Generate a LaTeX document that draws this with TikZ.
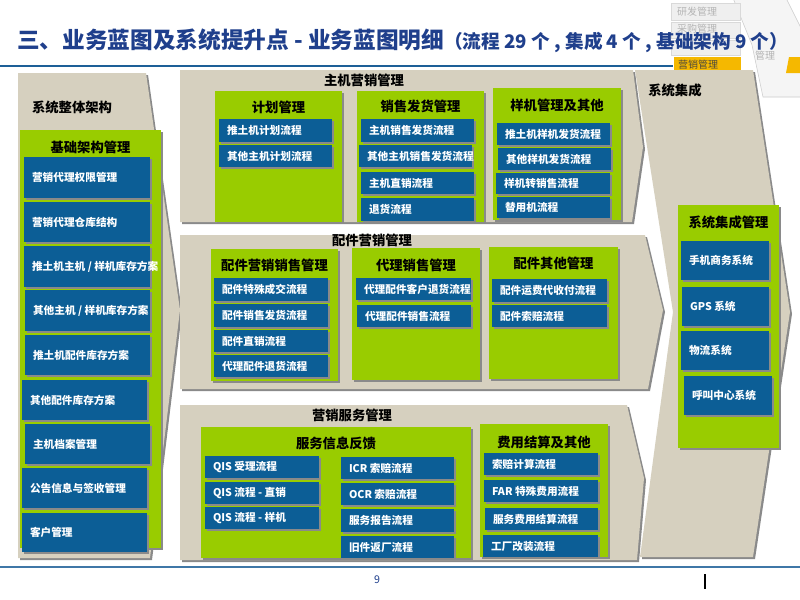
\documentclass[tikz,border=0pt]{standalone}
\usepackage{fontspec}
\setmainfont{Noto Sans CJK SC}
\usetikzlibrary{fit}
\definecolor{beige}{HTML}{D6D0BF}
\definecolor{bshadow}{HTML}{8A8A8A}
\definecolor{pgreen}{HTML}{99CC00}
\definecolor{pblue}{HTML}{0C5E96}
\definecolor{tblue}{HTML}{1F3F8C}
\definecolor{lineblue}{HTML}{1D5F97}
\definecolor{navgray}{HTML}{EFEFEF}
\definecolor{navtext}{HTML}{B4B4B4}
\definecolor{navyellow}{HTML}{F5B800}
\tikzset{
  gbox/.style={fill=pgreen, inner sep=0pt, draw=none},
  bbox/.style={fill=pblue, inner sep=0pt, draw=none},
  shadowfill/.style={fill=bshadow},
  btext/.style={text=white, font=\fontsize{8}{9}\selectfont\bfseries, inner sep=0pt, anchor=west},
  ptitle/.style={text=black, font=\fontsize{10}{12}\selectfont\bfseries, inner sep=0pt},
  navtab/.style={fill=navgray, draw=white!85!black, line width=0.4pt},
  navlabel/.style={text=navtext, font=\fontsize{7.5}{9}\selectfont, inner sep=0pt}
}
\newcommand\gpan[7]{%
  \fill[shadowfill] (#2+2,#3+2) rectangle (#4+2,#5+2);
  \node[gbox, fit={(#2,#3)(#4,#5)}] (#1) {};
  \node[ptitle] (#1t) at ({(#2+#4)/2},#6) {#7};}
\newcommand\bbx[6]{%
  \fill[shadowfill] (#2+2,#3+2) rectangle (#4+2,#5+2);
  \node[bbox, fit={(#2,#3)(#4,#5)}] (#1) {};
  \node[btext] (#1t) at ([xshift=6pt]#1.west) {#6};}
\begin{document}
\begin{tikzpicture}[x=0.75pt,y=-0.75pt]
\useasboundingbox (0,0) rectangle (800,600);
\fill[white] (0,0) rectangle (800,600);

% ---------- navigation widget (top right) ----------
\filldraw[fill=black!4, draw=white!80!black] (733,-2) -- (786,-2) -- (802,30) -- (802,97) -- (763,97) -- (752,45) -- cycle;
\filldraw[navtab] (671,3) rectangle (740,20);
\node[navlabel] (nav1) at (697,12) {研发管理};
\filldraw[navtab] (671,22) rectangle (740,38);
\node[navlabel] (nav2) at (697,29) {采购管理};
\filldraw[navtab] (671,40) rectangle (740,55);
\node[navlabel] (nav5) at (765,56) {管理};
\fill[navyellow] (674,57) rectangle (741,73);
\fill[navyellow] (789,57) -- (800,57) -- (800,73) -- (786,73) -- cycle;
\node[text=black!80!yellow, font=\fontsize{7.5}{9}\selectfont, inner sep=0pt] (nav4) at (698,65) {营销管理};

% ---------- title ----------
\node[anchor=west, inner sep=0pt, text=tblue] (title) at (17,41)
  {\fontsize{17}{20}\selectfont\bfseries 三、业务蓝图及系统提升点 - 业务蓝图明细\fontsize{14}{17}\selectfont （流程 29 个 , 集成 4 个 , 基础架构 9 个）};
\draw[lineblue, line width=2.2pt] (0,66) -- (673,66);

% ---------- beige chevrons ----------
% left
\fill[shadowfill] (20,75) -- (148,75) -- (182,312) -- (152,560) -- (20,560) -- cycle;
\fill[beige] (18,73) -- (146,73) -- (180,310) -- (150,558) -- (18,558) -- cycle;
% top middle
\fill[shadowfill] (182,72) -- (635,72) -- (645,149) -- (634,224) -- (182,224) -- cycle;
\fill[beige] (180,70) -- (633,70) -- (643,147) -- (632,222) -- (180,222) -- cycle;
% middle
\fill[shadowfill] (182,237) -- (647,237) -- (665,312) -- (650,391) -- (182,391) -- cycle;
\fill[beige] (180,235) -- (645,235) -- (663,310) -- (648,389) -- (180,389) -- cycle;
% bottom
\fill[shadowfill] (182,407) -- (629,407) -- (646,480) -- (639,562) -- (182,562) -- cycle;
\fill[beige] (180,405) -- (627,405) -- (644,478) -- (637,560) -- (180,560) -- cycle;
% right
\fill[shadowfill] (637,72) -- (755,72) -- (792,314) -- (755,559) -- (642,559) -- (675,314) -- cycle;
\fill[beige] (635,70) -- (753,70) -- (790,312) -- (753,557) -- (640,557) -- (673,312) -- cycle;

\node[ptitle] (archt) at (72,107) {系统整体架构};
\node[ptitle] (hostt) at (364,80) {主机营销管理};
\node[ptitle] (partt) at (372,240) {配件营销管理};
\node[ptitle] (servt) at (352,415) {营销服务管理};
\node[ptitle, anchor=west] (integt) at (648,90) {系统集成};

% ---------- left column ----------
\gpan{infra}{20}{130}{161}{548}{147}{基础架构管理}
\bbx{l1}{24}{157}{150}{198}{营销代理权限管理}
\bbx{l2}{24}{202}{150}{242}{营销代理仓库结构}
\bbx{l3}{24}{246}{150}{287}{推土机主机 / 样机库存方案}
\bbx{l4}{25}{290}{150}{331}{其他主机 / 样机库存方案}
\bbx{l5}{25}{335}{150}{375}{推土机配件库存方案}
\bbx{l6}{22}{380}{147}{420}{其他配件库存方案}
\bbx{l7}{25}{424}{150}{464}{主机档案管理}
\bbx{l8}{22}{468}{147}{508}{公告信息与签收管理}
\bbx{l9}{22}{513}{147}{552}{客户管理}

% ---------- host marketing ----------
\gpan{plan}{215}{91}{342}{222}{107}{计划管理}
\bbx{h1}{219}{119}{332}{142}{推土机计划流程}
\bbx{h2}{219}{145}{332}{167}{其他主机计划流程}
\gpan{sale}{357}{91}{484}{222}{106}{销售发货管理}
\bbx{h3}{361}{119}{474}{142}{主机销售发货流程}
\bbx{h4}{359}{145}{472}{167}{其他主机销售发货流程}
\bbx{h5}{361}{172}{474}{194}{主机直销流程}
\bbx{h6}{361}{198}{474}{221}{退货流程}
\gpan{sample}{493}{88}{621}{220}{105}{样机管理及其他}
\bbx{h7}{497}{123}{610}{145}{推土机样机发货流程}
\bbx{h8}{498}{148}{611}{170}{其他样机发货流程}
\bbx{h9}{496}{173}{610}{194}{样机转销售流程}
\bbx{h10}{497}{197}{610}{218}{替用机流程}

% ---------- parts marketing ----------
\gpan{psale}{211}{249}{338}{381}{265}{配件营销销售管理}
\bbx{p1}{214}{278}{328}{301}{配件特殊成交流程}
\bbx{p2}{214}{304}{328}{327}{配件销售发货流程}
\bbx{p3}{214}{330}{328}{352}{配件直销流程}
\bbx{p4}{214}{355}{328}{377}{代理配件退货流程}
\gpan{agent}{352}{248}{480}{380}{265}{代理销售管理}
\bbx{p5}{356}{278}{471}{300}{代理配件客户退货流程}
\bbx{p6}{357}{305}{471}{327}{代理配件销售流程}
\gpan{pother}{489}{247}{618}{379}{263}{配件其他管理}
\bbx{p7}{492}{279}{607}{302}{配件运费代收付流程}
\bbx{p8}{492}{305}{607}{327}{配件索赔流程}

% ---------- service ----------
\gpan{feedback}{201}{427}{471}{558}{443}{服务信息反馈}
\bbx{s1}{205}{456}{319}{478}{QIS 受理流程}
\bbx{s2}{205}{482}{319}{504}{QIS 流程 - 直销}
\bbx{s3}{205}{507}{319}{529}{QIS 流程 - 样机}
\bbx{s4}{341}{457}{454}{479}{ICR 索赔流程}
\bbx{s5}{341}{483}{454}{505}{OCR 索赔流程}
\bbx{s6}{341}{509}{454}{532}{服务报告流程}
\bbx{s7}{341}{536}{454}{558}{旧件返厂流程}
\gpan{cost}{480}{424}{608}{557}{442}{费用结算及其他}
\bbx{s8}{484}{453}{598}{475}{索赔计算流程}
\bbx{s9}{484}{480}{598}{502}{FAR 特殊费用流程}
\bbx{s10}{485}{508}{598}{530}{服务费用结算流程}
\bbx{s11}{483}{535}{598}{557}{工厂改装流程}

% ---------- integration ----------
\gpan{integ}{678}{205}{779}{448}{222}{系统集成管理}
\bbx{i1}{681}{241}{769}{280}{手机商务系统}
\bbx{i2}{682}{287}{769}{326}{GPS 系统}
\bbx{i3}{681}{331}{769}{370}{物流系统}
\bbx{i4}{684}{376}{772}{415}{呼叫中心系统}

% ---------- footer ----------
\draw[lineblue!85!white, line width=1.5pt] (0,567) -- (800,567);
\node[text=tblue, font=\fontsize{8}{9}\selectfont, inner sep=0pt] (pagenum) at (377,580) {9};
\coordinate (bar1) at (705,574);
\coordinate (bar2) at (705,589);
\draw[black, line width=1.2pt] (bar1) -- (bar2);
\end{tikzpicture}
\end{document}
